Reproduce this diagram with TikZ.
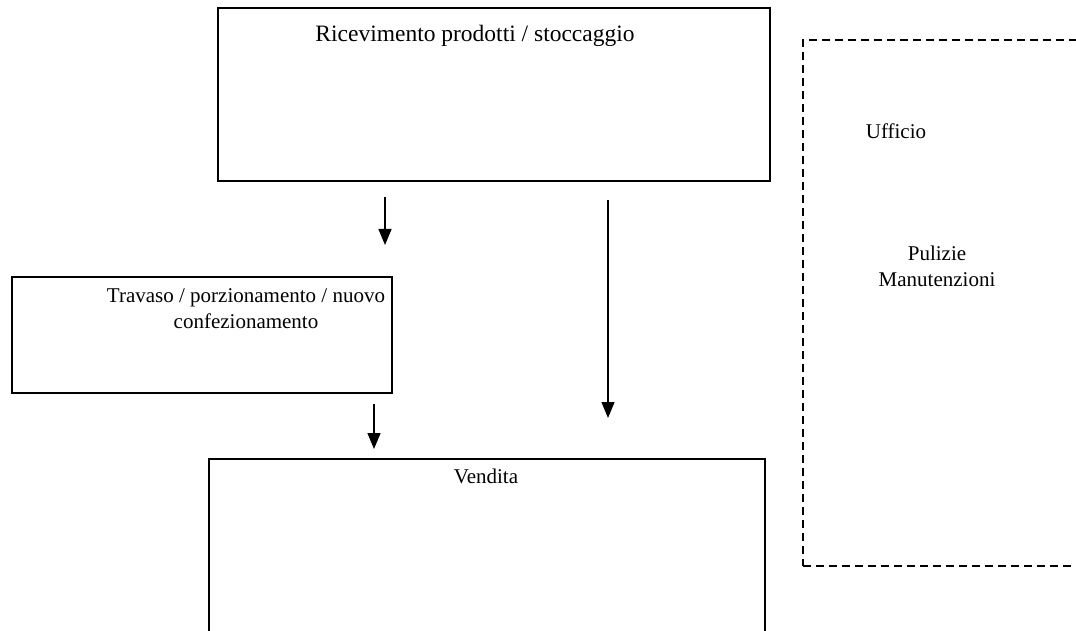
\documentclass[tikz,border=0pt]{standalone}
\usepackage{fontspec}
\setmainfont{Liberation Serif}
\usetikzlibrary{arrows.meta}
\begin{document}
\begin{tikzpicture}[x=1pt,y=-1pt,
  box/.style={draw=black, line width=1.6pt, rectangle, inner sep=0pt},
  lbl/.style={inner sep=0pt, align=center, font=\fontsize{21}{26}\selectfont},
  dashbox/.style={draw=black, line width=1.8pt, dash pattern=on 8pt off 5pt},
  flow/.style={line width=1.4pt, -{Triangle[width=13pt,length=16pt]}}]
\clip (0,0) rectangle (1076,631);
\fill[white] (0,0) rectangle (1076,631);
% boxes
\node[box, minimum width=552pt, minimum height=173pt] (ric) at (494,94.5) {};
\node[lbl, font=\fontsize{23.5}{28}\selectfont] (rict) at (475,36) {Ricevimento prodotti / stoccaggio};
\node[box, minimum width=380pt, minimum height=116pt] (tra) at (202,335) {};
\node[lbl] (trat) at (246,309) {Travaso / porzionamento / nuovo\\confezionamento};
\node[box, minimum width=556pt, minimum height=200pt] (ven) at (487,559) {};
\node[lbl] (vent) at (486,476) {Vendita};
% dashed area
\node[dashbox, minimum width=290pt, minimum height=526pt] (area) at (948,303) {};
\node[lbl] (uff) at (896,131) {Ufficio};
\node[lbl] (pul) at (937,266) {Pulizie\\Manutenzioni};
% arrows
\coordinate (a1s) at (385,197);
\coordinate (a1e) at (385,245);
\coordinate (a2s) at (608,200);
\coordinate (a2e) at (608,418);
\coordinate (a3s) at (374,404);
\coordinate (a3e) at (374,449);
\draw[flow] (a1s) -- (a1e);
\draw[flow] (a2s) -- (a2e);
\draw[flow] (a3s) -- (a3e);
\end{tikzpicture}
\end{document}
